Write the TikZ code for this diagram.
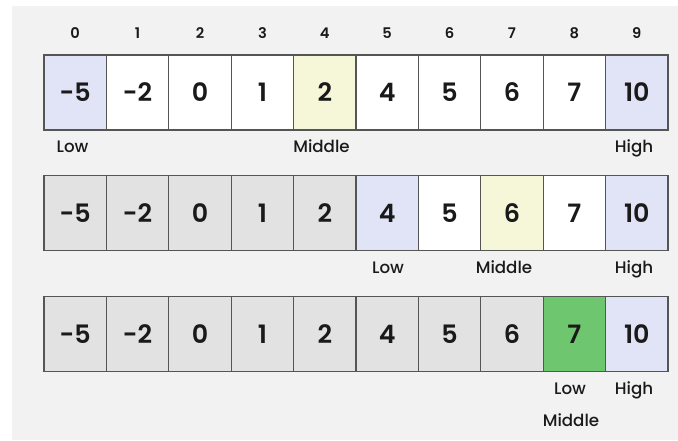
\documentclass[tikz,border=0pt]{standalone}
\usepackage{fontspec}
\setmainfont{Poppins}
\newfontfamily\numfont{Poppins SemiBold}
\newfontfamily\lblfont{Poppins Medium}
\usetikzlibrary{positioning}
\definecolor{bgGray}{HTML}{F2F2F2}
\definecolor{cellLine}{HTML}{555555}
\definecolor{doneGray}{HTML}{E2E2E2}
\definecolor{endLav}{HTML}{E1E3F6}
\definecolor{midYel}{HTML}{F6F7D8}
\definecolor{foundGreen}{HTML}{6EC66E}
\definecolor{numInk}{HTML}{1A1A1A}

\begin{document}
\begin{tikzpicture}[x=0.75pt, y=-0.75pt,
    cellBox/.style={draw=cellLine, line width=0.9pt, minimum width=46.8pt, minimum height=56.25pt, inner sep=0pt, text=numInk, font=\numfont\fontsize{19}{21}\selectfont},
    idxLbl/.style={anchor=base, text=numInk, font=\numfont\fontsize{11}{13}\selectfont},
    posLbl/.style={anchor=base, text=numInk, font=\lblfont\fontsize{12.5}{14}\selectfont}
]
    % Background
    \useasboundingbox (0,0) rectangle (678,440);
    \fill[bgGray] (12,6) rectangle (678,440);

    % Indices
    \foreach \i in {0,...,9}
        \node[idxLbl] (idx\i) at ({75.2+62.4*\i}, 38.5) {\i};

    % Row 1 : Low=0, Middle=4, High=9
    \foreach \i/\v/\f in {0/-5/endLav, 1/-2/white, 2/0/white, 3/1/white, 4/2/midYel,
                          5/4/white, 6/5/white, 7/6/white, 8/7/white, 9/10/endLav}
        \node[cellBox, fill=\f] (a\i) at ({75.2+62.4*\i}, 92.5) {\v};
    \node[posLbl] (low1)  at (72.5, 152) {Low};
    \node[posLbl] (mid1)  at (321.5, 152) {Middle};
    \node[posLbl] (high1) at (634, 152) {High};

    % Row 2 : Low=5, Middle=7, High=9
    \foreach \i/\v/\f in {0/-5/doneGray, 1/-2/doneGray, 2/0/doneGray, 3/1/doneGray, 4/2/doneGray,
                          5/4/endLav, 6/5/white, 7/6/midYel, 8/7/white, 9/10/endLav}
        \node[cellBox, fill=\f] (b\i) at ({75.2+62.4*\i}, 213) {\v};
    \node[posLbl] (low2)  at (388, 273) {Low};
    \node[posLbl] (mid2)  at (504, 273) {Middle};
    \node[posLbl] (high2) at (634, 273) {High};

    % Row 3 : Low=Middle=8, High=9
    \foreach \i/\v/\f in {0/-5/doneGray, 1/-2/doneGray, 2/0/doneGray, 3/1/doneGray, 4/2/doneGray,
                          5/4/doneGray, 6/5/doneGray, 7/6/doneGray, 8/7/foundGreen, 9/10/endLav}
        \node[cellBox, fill=\f] (c\i) at ({75.2+62.4*\i}, 334) {\v};
    \node[posLbl] (low3)  at (570, 394) {Low};
    \node[posLbl] (high3) at (634, 394) {High};
    \node[posLbl] (mid3)  at (571, 426.5) {Middle};
\end{tikzpicture}
\end{document}
